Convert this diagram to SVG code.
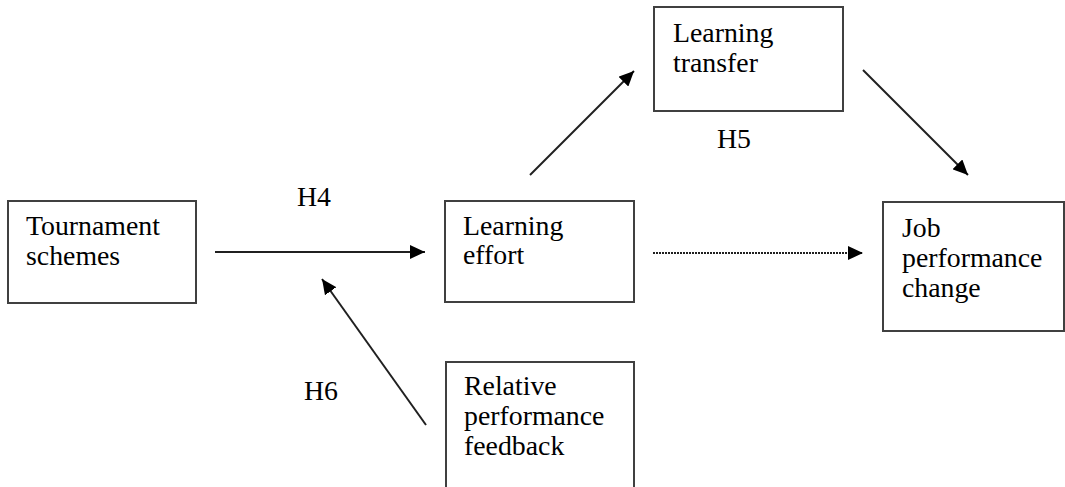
<svg xmlns="http://www.w3.org/2000/svg" width="1065" height="487" viewBox="0 0 1065 487">
<style>
.box{fill:#fff;stroke:#404040;stroke-width:2}
.t{font-family:"Liberation Serif","Times New Roman",serif;font-size:27.8px;fill:#000}
.c{stroke:#202020;stroke-width:2;fill:none}
.d{stroke:#202020;stroke-width:2;fill:none;stroke-dasharray:2 1}
</style>
<defs>
<marker id="ah" markerUnits="userSpaceOnUse" markerWidth="16" markerHeight="14" refX="15" refY="7" orient="auto">
<path d="M0,0 L15,7 L0,14 Z" fill="#000"/>
</marker>
</defs>
<rect width="1065" height="487" fill="#fff"/>
<g id="tournament">
<rect class="box" x="8" y="201" width="188" height="102"/>
<text class="t" x="26" y="235">Tournament</text>
<text class="t" x="26" y="265">schemes</text>
</g>
<g id="effort">
<rect class="box" x="445" y="201" width="189" height="101"/>
<text class="t" x="463" y="235">Learning</text>
<text class="t" x="463" y="264">effort</text>
</g>
<g id="transfer">
<rect class="box" x="654" y="7" width="189" height="104"/>
<text class="t" x="673" y="42">Learning</text>
<text class="t" x="673" y="72">transfer</text>
</g>
<g id="job">
<rect class="box" x="883" y="202" width="181" height="129"/>
<text class="t" x="902" y="237">Job</text>
<text class="t" x="902" y="267">performance</text>
<text class="t" x="902" y="297">change</text>
</g>
<g id="feedback">
<rect class="box" x="446" y="362" width="188" height="130"/>
<text class="t" x="464" y="395">Relative</text>
<text class="t" x="464" y="425">performance</text>
<text class="t" x="464" y="455">feedback</text>
</g>
<g id="connectors">
<line class="c" x1="215" y1="252" x2="425" y2="252" marker-end="url(#ah)"/>
<line class="c" x1="530" y1="175" x2="634" y2="71" marker-end="url(#ah)"/>
<line class="c" x1="863" y1="70" x2="968" y2="175" marker-end="url(#ah)"/>
<line class="d" x1="653" y1="253" x2="863" y2="253" marker-end="url(#ah)"/>
<line class="c" x1="426" y1="425" x2="322" y2="279" marker-end="url(#ah)"/>
</g>
<g id="labels">
<text class="t" x="297" y="206">H4</text>
<text class="t" x="717" y="148">H5</text>
<text class="t" x="304" y="400">H6</text>
</g>
</svg>
